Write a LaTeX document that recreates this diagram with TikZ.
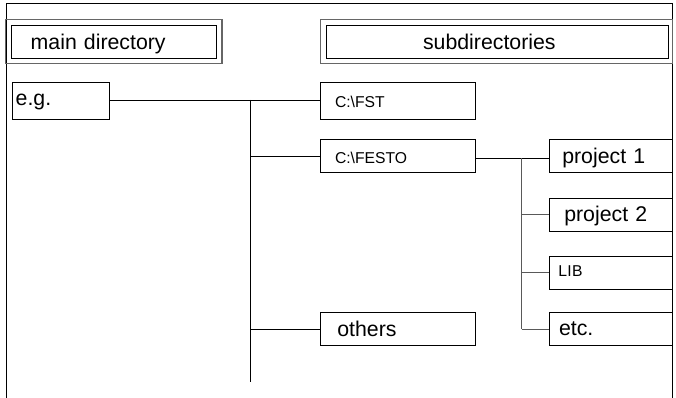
\documentclass[tikz,border=0pt]{standalone}
\usepackage{fontspec}
\setmainfont{Liberation Sans}
\newcommand\dirbox[9]{%
  \pgfmathsetmacro\dbW{#4-#2}%
  \pgfmathsetmacro\dbH{#5-#3}%
  \pgfmathsetmacro\dbA{#6-#2-1}%
  \pgfmathsetmacro\dbTW{#4-#2-2*(#6-#2-1)}%
  \pgfmathsetmacro\dbh{2*(#7-(#3+#5)/2)}%
  \pgfmathsetmacro\dbX{(#2+#4)/2}%
  \pgfmathsetmacro\dbY{(#3+#5)/2}%
  \node[dbox, minimum width=\dbW pt, minimum height=\dbH pt, inner xsep=\dbA pt,
        text width=\dbTW pt, text height=\dbh pt, font=#8] (#1) at (\dbX,\dbY) {#9};%
}
\newcommand\bigf{\fontsize{21.3}{25}\selectfont}
\newcommand\smallf{\fontsize{15.7}{19}\selectfont}
\begin{document}
\begin{tikzpicture}[x=1pt,y=-1pt,
  dbox/.style={draw=black, line width=0.9pt, rectangle, inner ysep=0pt, text depth=0pt, align=left, fill=white},
  outerbox/.style={draw=black!60, line width=1.2pt},
  conn/.style={draw=black, line width=0.9pt},
  conn2/.style={draw=black!65, line width=1pt},
  frame/.style={draw=black, line width=1pt},
]
\useasboundingbox (0,0) rectangle (676,398);
% frame
\draw[frame] (6.3,398) -- (6.3,4) -- (672.5,4) -- (672.5,398);
% header boxes
\draw[outerbox] (5.5,19.5) rectangle (222,63.3);
\draw[outerbox] (320.5,19.5) rectangle (672.5,63.3);
\dirbox{main}{11.7}{25}{216.7}{58.3}{31.7}{49.3}{\bigf}{main directory}
\dirbox{sub}{326.7}{25}{668.3}{58.3}{424}{49.3}{\bigf}{subdirectories}
% boxes
\dirbox{eg}{12.3}{82.3}{109}{119.3}{16.7}{106}{\bigf}{e.g.}
\dirbox{fst}{320.7}{82.7}{475}{119.3}{336}{107.3}{\smallf}{C:\textbackslash FST}
\dirbox{festo}{320.7}{139.3}{475}{172.7}{336}{164}{\smallf}{C:\textbackslash FESTO}
\dirbox{others}{320.7}{312.3}{475}{345.7}{338.3}{336.7}{\bigf}{others}
\dirbox{p1}{549.3}{139.3}{672.5}{172.3}{563.3}{164}{\bigf}{project 1}
\dirbox{p2}{549.3}{198.3}{672.5}{231}{565.3}{221.7}{\bigf}{project 2}
\dirbox{lib}{549.3}{256}{672.5}{289.3}{559.3}{276}{\smallf}{L\kern0.4pt I\kern0.4pt B}
\dirbox{etc}{549.3}{312.3}{672.5}{345.7}{560}{335}{\bigf}{etc.}
% trunk 1
\coordinate (t1top) at (250,100);
\coordinate (t1bot) at (250,381.7);
\draw[conn] (eg.east |- t1top) -- (fst.west |- t1top);
\draw[conn] (t1top) -- (t1bot);
\draw[conn] (t1top |- festo.west) -- (festo.west);
\draw[conn] (t1top |- others.west) -- (others.west);
% trunk 2
\coordinate (t2top) at (521.7,158.3);
\draw[conn] (festo.east |- t2top) -- (p1.west |- t2top);
\draw[conn2] (t2top) -- (t2top |- etc.west);
\draw[conn2] (t2top |- p2.west) -- (p2.west);
\draw[conn2] (t2top |- lib.west) -- (lib.west);
\draw[conn2] (t2top |- etc.west) -- (etc.west);
\end{tikzpicture}
\end{document}
